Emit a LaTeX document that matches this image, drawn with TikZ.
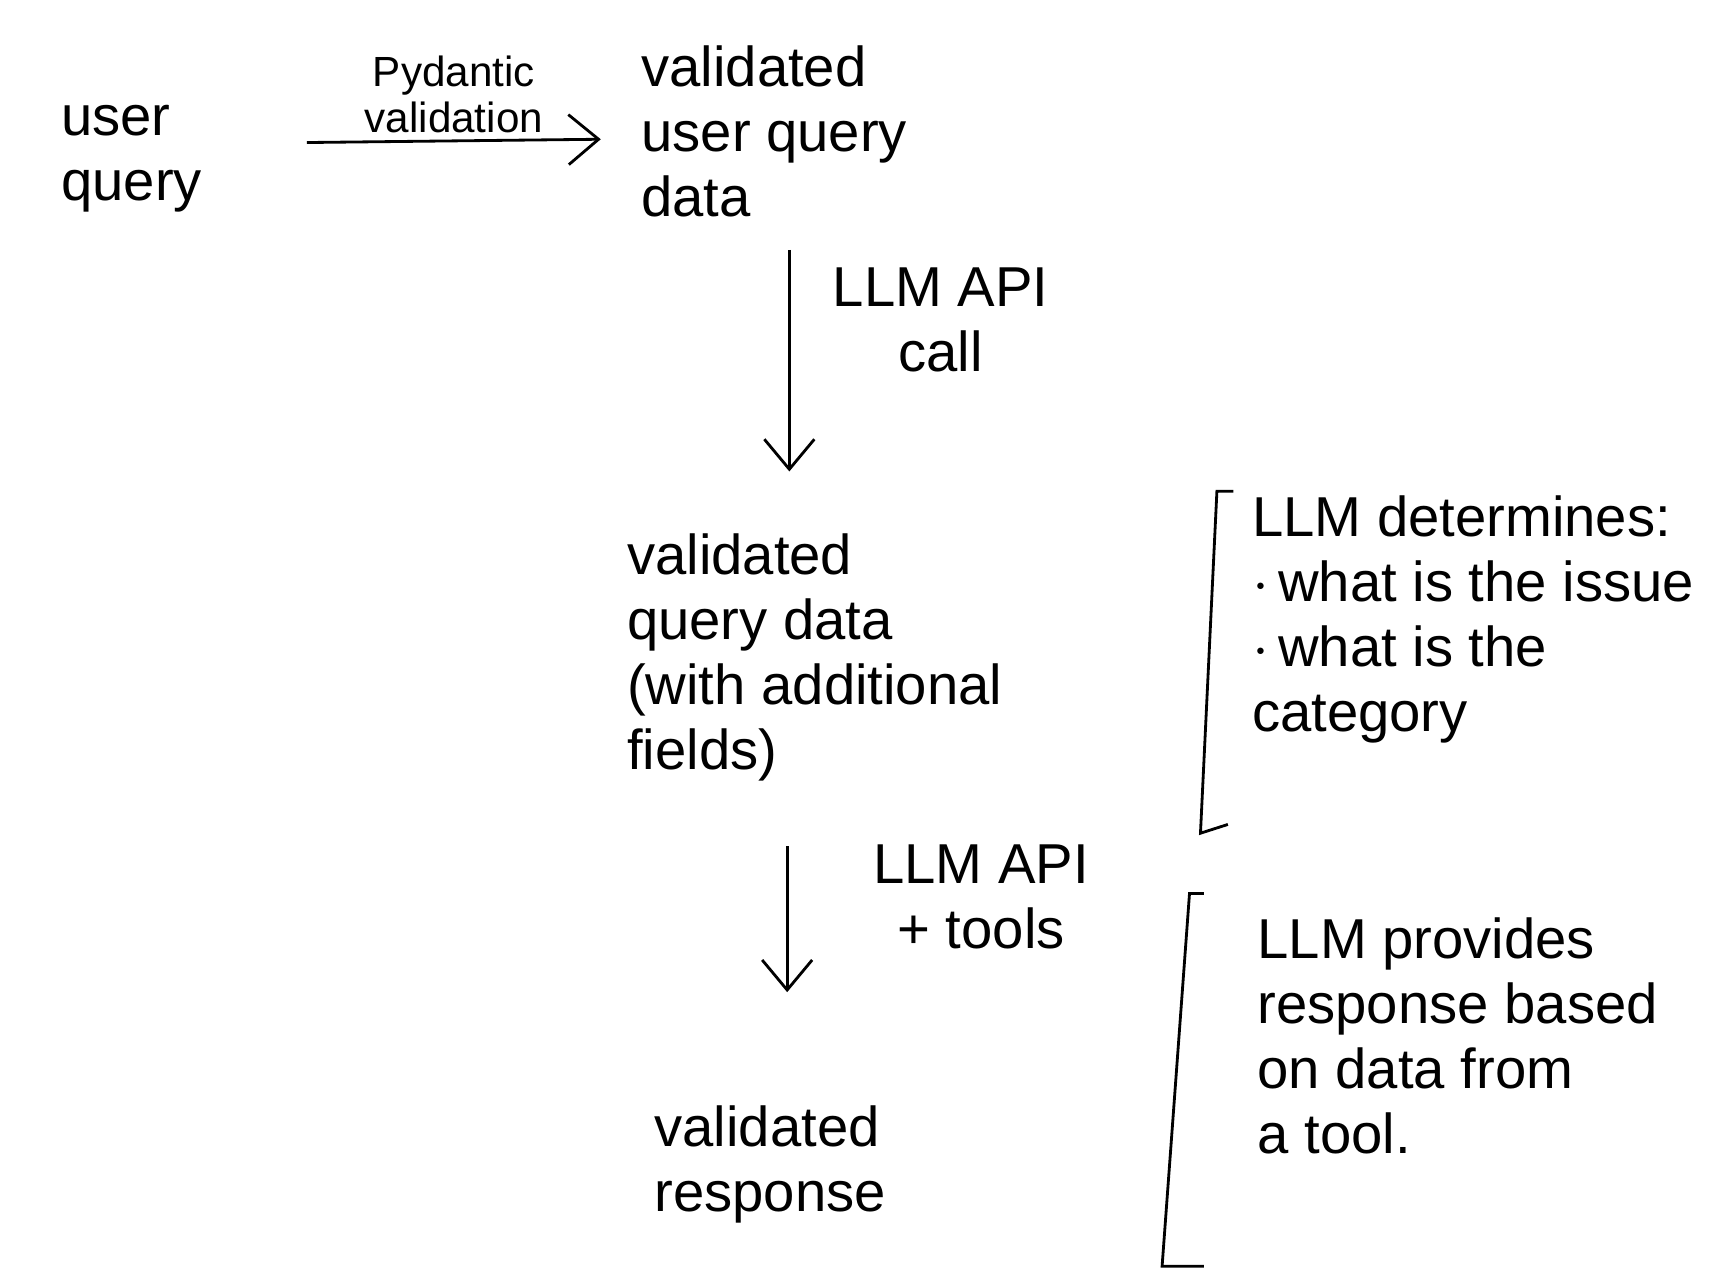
\documentclass[tikz,border=0pt]{standalone}
\usepackage{fontspec}
\setmainfont{Liberation Sans}
\usetikzlibrary{arrows.meta,positioning}
\begin{document}
\begin{tikzpicture}[x=0.1096mm,y=-0.1096mm]
\tikzstyle{txt}=[align=left,inner sep=2pt,font=\fontsize{16}{18.5}\selectfont]
\tikzstyle{lbl}=[align=center,inner sep=2pt,font=\fontsize{16}{18.5}\selectfont]
\tikzstyle{flow}=[-{Straight Barb[length=3mm,width=5mm]},thick]
\useasboundingbox (0,0) rectangle (1568,1161);

\node[txt] at (120,145) (uq) {user\\query};
\node[txt,anchor=west] at (578,120) (vuq) {validated\\user query\\data};
\node[txt,anchor=west] at (565,600) (vqd) {validated\\query data\\(with additional\\fields)};
\node[txt,anchor=west] at (590,1062) (vr) {validated\\response};

\node[txt,anchor=north west] at (1135,445) (det) {LLM determines:\\$\cdot$\,what is the issue\\$\cdot$\,what is the\\category};
\node[txt,anchor=north west] at (1140,830) (prov) {LLM provides\\response based\\on data from\\a tool.};

\coordinate (a1) at (280,130);
\coordinate (a2) at (548,127);
\draw[flow] (a1) -- (a2) node[midway,above,lbl,font=\fontsize{12}{13}\selectfont] (pv) {Pydantic\\validation};

\coordinate (b1) at (720,228);
\coordinate (b2) at (720,430);
\draw[flow] (b1) -- (b2);
\node[lbl] at (858,292) (call1) {LLM API\\call};

\coordinate (c1) at (718,772);
\coordinate (c2) at (718,905);
\draw[flow] (c1) -- (c2);
\node[lbl] at (895,818) (call2) {LLM API\\+ tools};

\draw[thick] (1125,448) -- (1110,448) -- (1095,760) -- (1120,752);
\draw[thick] (1098,815) -- (1085,815) -- (1060,1155) -- (1098,1155);
\end{tikzpicture}
\end{document}
